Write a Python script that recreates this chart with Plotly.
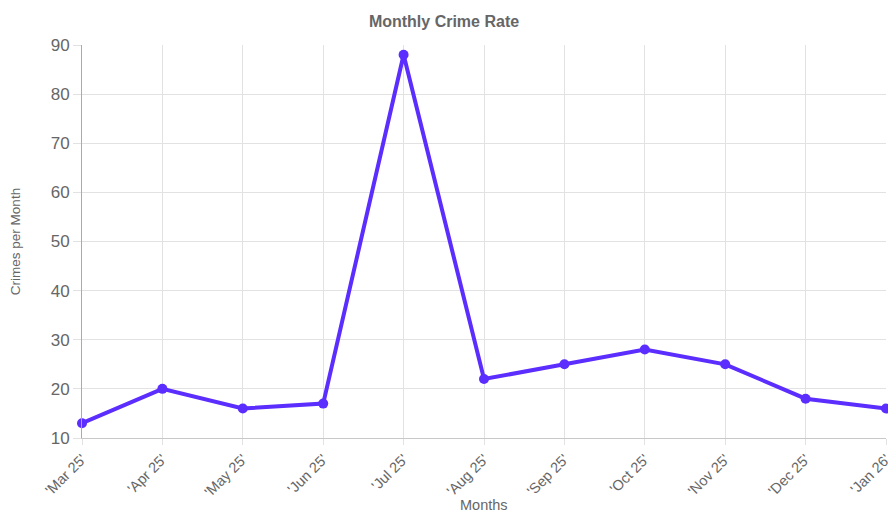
import plotly.graph_objects as go

months = ["'Mar 25'", "'Apr 25'", "'May 25'", "'Jun 25'", "'Jul 25'", "'Aug 25'",
          "'Sep 25'", "'Oct 25'", "'Nov 25'", "'Dec 25'", "'Jan 26'"]
crimes = [13, 20, 16, 17, 88, 22, 25, 28, 25, 18, 16]
y_ticks = [10, 20, 30, 40, 50, 60, 70, 80, 90]

line_color = "#5b2dff"
text_color = "#666666"
grid_color = "#e2e2e2"

fig = go.Figure(go.Scatter(
    x=months, y=crimes, mode="lines+markers",
    line=dict(color=line_color, width=4),
    marker=dict(color=line_color, size=10),
    cliponaxis=False,
))

fig.update_layout(
    width=888, height=512,
    margin=dict(l=82, r=2, t=45, b=74),
    paper_bgcolor="white", plot_bgcolor="white",
    font=dict(family="Liberation Sans, Arial, sans-serif", color=text_color),
    showlegend=False,
    title=dict(text="<b>Monthly Crime Rate</b>", x=0.5, xanchor="center",
               y=1 - 21 / 512, yanchor="middle",
               font=dict(size=16, color=text_color)),
    # x-axis title placed below the rotated month labels
    annotations=[dict(text="Months", xref="paper", yref="paper",
                      x=0.5, y=-67 / 393, xanchor="center", yanchor="middle",
                      showarrow=False, font=dict(size=14.5, color=text_color))],
)

fig.update_xaxes(
    range=[0, len(months) - 1], tickangle=-45, automargin=False,
    tickfont=dict(size=14.5, color=text_color),
    showgrid=True, gridcolor=grid_color, gridwidth=1,
    ticks="outside", ticklen=6, tickcolor=grid_color,
    showline=True, linecolor="#c8c8c8", linewidth=1,
    zeroline=False,
)

fig.update_yaxes(
    range=[10, 90], tickvals=y_ticks, automargin=False,
    tickfont=dict(size=17, color=text_color),
    showgrid=True, gridcolor=grid_color, gridwidth=1,
    ticks="outside", ticklen=8, tickcolor=grid_color,
    showline=True, linecolor="#aaaaaa", linewidth=1,
    zeroline=False,
    title=dict(text="Crimes per Month",
               font=dict(size=13.5, color=text_color,
                         family="Liberation Sans Narrow, Liberation Sans, sans-serif"),
               standoff=26),
)

fig.write_html("out.html")
